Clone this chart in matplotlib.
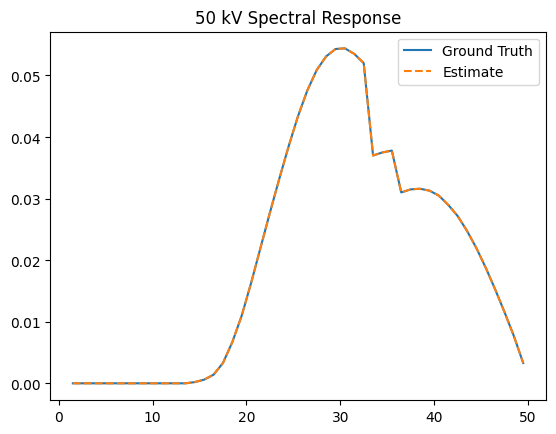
import numpy as np
from matplotlib import pyplot as plt

energy = np.arange(1.5, 50.0, 1.0)

ground_truth = [
    0.0, 0.0, 0.0, 0.0, 0.0, 0.0, 0.0, 0.0, 0.0, 0.0, 0.0, 0.0, 0.0,
    0.0002, 0.0006, 0.0014, 0.0033, 0.0067, 0.0110, 0.0163, 0.0220,
    0.0277, 0.0332, 0.0385, 0.0434, 0.0476, 0.0509, 0.0531, 0.0543,
    0.0544, 0.0535, 0.0520, 0.0370, 0.0375, 0.0378, 0.0310, 0.0315,
    0.0316, 0.0313, 0.0305, 0.0290, 0.0272, 0.0248, 0.0220, 0.0188,
    0.0153, 0.0116, 0.0077, 0.0033,
]
estimate = list(ground_truth)

fig = plt.figure(figsize=(5.56, 4.35), dpi=100)
fig.subplots_adjust(left=0.0905, right=0.9815, top=0.925, bottom=0.078)
ax = fig.add_subplot(111)

ax.plot(energy, ground_truth, '-', label='Ground Truth')
ax.plot(energy, estimate, '--', label='Estimate')
ax.set_title('50 kV Spectral Response')
ax.legend(loc='upper right')

fig.savefig('out.png')
